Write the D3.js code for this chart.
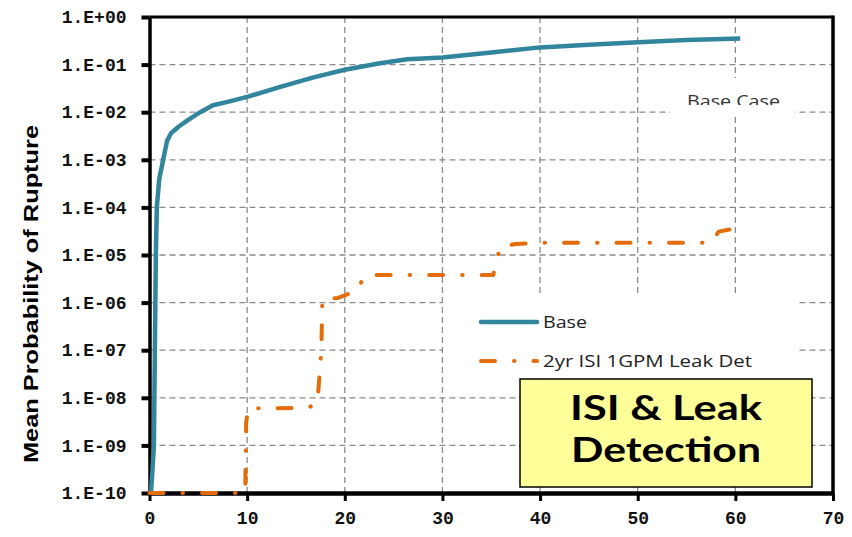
<!DOCTYPE html>
<html>
<head>
<meta charset="utf-8">
<script src="https://cdn.jsdelivr.net/npm/d3@7"></script>
<style>
  body { margin: 0; background: #fff; }
  svg { display: block; }
</style>
</head>
<body>
<div id="chart"></div>
<script>
// x axis: years, y axis: mean probability of rupture (log)
const xTicks = [0, 10, 20, 30, 40, 50, 60, 70];
const yTicks = [1, 1e-1, 1e-2, 1e-3, 1e-4, 1e-5, 1e-6, 1e-7, 1e-8, 1e-9, 1e-10];
const yTickLabels = ["1.E+00", "1.E-01", "1.E-02", "1.E-03", "1.E-04", "1.E-05",
                     "1.E-06", "1.E-07", "1.E-08", "1.E-09", "1.E-10"];

const seriesNames = ["Base", "2yr ISI 1GPM Leak Det"];

// Base case
const baseYears = [0.15, 0.3, 0.45, 0.55, 0.65, 0.75, 1.0, 1.4, 1.8, 2.2, 3, 4, 5.2, 6.5, 8,
                   10, 13.4, 16.8, 20, 23.6, 26.4, 30, 35, 40, 45, 50, 55, 60.5];
const baseProb = [1e-10, 3e-10, 1e-9, 1e-7, 1e-5, 1e-4, 4e-4, 1e-3, 2.5e-3, 3.6e-3, 5e-3, 7e-3, 1e-2, 1.4e-2, 1.65e-2,
                  2.1e-2, 3.4e-2, 5.4e-2, 7.8e-2, 0.107, 0.129, 0.141, 0.18, 0.23, 0.26, 0.295, 0.33, 0.355];

// 2yr ISI with 1 GPM leak detection
const isiYears = [0, 9.8, 9.9, 10.1, 16.2, 17.2, 17.6, 17.7, 19.3, 21.3, 21.9, 22.5, 35.2, 35.9, 37.5, 40, 57.5, 58.3, 60.2];
const isiProb = [1e-10, 1e-10, 3e-9, 6e-9, 6.1e-9, 7.8e-9, 1e-7, 1.2e-6, 1.25e-6, 1.8e-6, 3.4e-6, 3.8e-6, 3.8e-6, 1.5e-5, 1.7e-5, 1.8e-5, 1.8e-5, 3.1e-5, 3.7e-5];

const W = 852, H = 537;
const plotLeft = 149.5, plotRight = 833, plotTop = 17, plotBottom = 493;

const svg = d3.select("#chart").append("svg")
  .attr("width", W)
  .attr("height", H);

const x = d3.scaleLinear().domain([0, 70]).range([plotLeft, plotRight]);
const y = d3.scaleLog().domain([1e-10, 1]).range([plotBottom, plotTop]);

// gridlines
const grid = svg.append("g")
  .attr("stroke", "#8a8a8a")
  .attr("stroke-width", 1.3)
  .attr("stroke-dasharray", "6,4");

grid.selectAll("line.h")
  .data(yTicks.slice(1, -1))
  .enter().append("line")
  .attr("x1", plotLeft).attr("x2", plotRight)
  .attr("y1", d => y(d)).attr("y2", d => y(d));

grid.selectAll("line.v")
  .data(xTicks.slice(1, -1))
  .enter().append("line")
  .attr("x1", d => x(d)).attr("x2", d => x(d))
  .attr("y1", plotTop).attr("y2", plotBottom);

// white patches behind the text blocks
svg.append("rect").attr("x", 670).attr("y", 78).attr("width", 125).attr("height", 39).attr("fill", "#fff");
svg.append("rect").attr("x", 443).attr("y", 297).attr("width", 355).attr("height", 82).attr("fill", "#fff");

svg.append("clipPath").attr("id", "bcClip")
  .append("rect").attr("x", 670).attr("y", 78).attr("width", 125).attr("height", 27);
svg.append("text")
  .attr("clip-path", "url(#bcClip)")
  .attr("x", 687).attr("y", 107)
  .attr("font-family", "Open Sans, sans-serif")
  .attr("font-size", 17)
  .attr("textLength", 93)
  .attr("lengthAdjust", "spacingAndGlyphs")
  .attr("fill", "#333")
  .text("Base Case");

// plot frame (top & right)
svg.append("line").attr("x1", plotLeft).attr("x2", plotRight).attr("y1", plotTop).attr("y2", plotTop)
  .attr("stroke", "#000").attr("stroke-width", 3);
svg.append("line").attr("x1", plotRight).attr("x2", plotRight).attr("y1", plotTop - 1.5).attr("y2", plotBottom)
  .attr("stroke", "#000").attr("stroke-width", 3.5);

// axes
const yAxis = svg.append("g")
  .attr("transform", `translate(${plotLeft},0)`)
  .call(d3.axisLeft(y)
    .tickValues(yTicks)
    .tickFormat((d, i) => yTickLabels[i])
    .tickSize(8)
    .tickSizeOuter(0)
    .tickPadding(15));
yAxis.select(".domain").attr("stroke-width", 3.5);
yAxis.selectAll(".tick line").attr("stroke-width", 4);
yAxis.selectAll(".tick text")
  .attr("font-family", "Liberation Mono, monospace")
  .attr("font-weight", "bold")
  .attr("font-size", 18)
  .attr("fill", "#111");

const xAxis = svg.append("g")
  .attr("transform", `translate(0,${plotBottom})`)
  .call(d3.axisBottom(x)
    .tickValues(xTicks)
    .tickSize(8)
    .tickSizeOuter(0)
    .tickPadding(10));
xAxis.select(".domain").attr("stroke-width", 4.5);
xAxis.selectAll(".tick line").attr("stroke-width", 3);
xAxis.selectAll(".tick text")
  .attr("font-family", "Liberation Mono, monospace")
  .attr("font-weight", "bold")
  .attr("font-size", 18)
  .attr("fill", "#111");

// curves (drawn over the axis lines, as in the original)
const line = d3.line()
  .x(d => x(d[0]))
  .y(d => y(d[1]));

const baseData = baseYears.map((t, i) => [t, baseProb[i]]);
const isiData = isiYears.map((t, i) => [t, isiProb[i]]);

svg.append("path")
  .datum(baseData)
  .attr("d", line)
  .attr("fill", "none")
  .attr("stroke", "#31859c")
  .attr("stroke-width", 4.5)
  .attr("stroke-linejoin", "round");

svg.append("path")
  .datum(isiData)
  .attr("d", line)
  .attr("fill", "none")
  .attr("stroke", "#e46c0a")
  .attr("stroke-width", 4)
  .attr("stroke-linecap", "round")
  .attr("stroke-linejoin", "round")
  .attr("stroke-dasharray", "14,19,0.5,19");

// y axis title
svg.append("text")
  .attr("transform", "translate(38,294) rotate(-90)")
  .attr("text-anchor", "middle")
  .attr("font-family", "Liberation Sans, Arial, sans-serif")
  .attr("font-weight", "bold")
  .attr("font-size", 21)
  .attr("textLength", 338)
  .attr("lengthAdjust", "spacingAndGlyphs")
  .attr("fill", "#000")
  .text("Mean Probability of Rupture");

// legend
const legend = svg.append("g");
const legendY = [322, 361];
const legendTextLen = [44, 209];
legend.append("line").attr("x1", 481).attr("x2", 537).attr("y1", legendY[0]).attr("y2", legendY[0])
  .attr("stroke", "#31859c").attr("stroke-width", 4.5).attr("stroke-linecap", "round");
legend.append("line").attr("x1", 481).attr("x2", 537).attr("y1", legendY[1]).attr("y2", legendY[1])
  .attr("stroke", "#e46c0a").attr("stroke-width", 4).attr("stroke-linecap", "round")
  .attr("stroke-dasharray", "14,19,0.5,19");
legend.selectAll("text")
  .data(seriesNames)
  .enter().append("text")
  .attr("x", 543)
  .attr("y", (d, i) => legendY[i] + 6)
  .attr("font-family", "Open Sans, sans-serif")
  .attr("font-size", 17)
  .attr("textLength", (d, i) => legendTextLen[i])
  .attr("lengthAdjust", "spacingAndGlyphs")
  .attr("fill", "#222")
  .text(d => d);

// yellow callout
svg.append("rect")
  .attr("x", 520).attr("y", 379).attr("width", 292).attr("height", 108)
  .attr("fill", "#ffff99").attr("stroke", "#000").attr("stroke-width", 1.5);
svg.append("text")
  .attr("x", 666).attr("y", 420)
  .attr("text-anchor", "middle")
  .attr("font-family", "Lato, sans-serif")
  .attr("font-weight", "bold")
  .attr("font-size", 35)
  .attr("textLength", 192)
  .attr("lengthAdjust", "spacingAndGlyphs")
  .attr("fill", "#000")
  .text("ISI & Leak");
svg.append("text")
  .attr("x", 666).attr("y", 462)
  .attr("text-anchor", "middle")
  .attr("font-family", "Lato, sans-serif")
  .attr("font-weight", "bold")
  .attr("font-size", 35)
  .attr("textLength", 190)
  .attr("lengthAdjust", "spacingAndGlyphs")
  .attr("fill", "#000")
  .text("Detection");
</script>
</body>
</html>
